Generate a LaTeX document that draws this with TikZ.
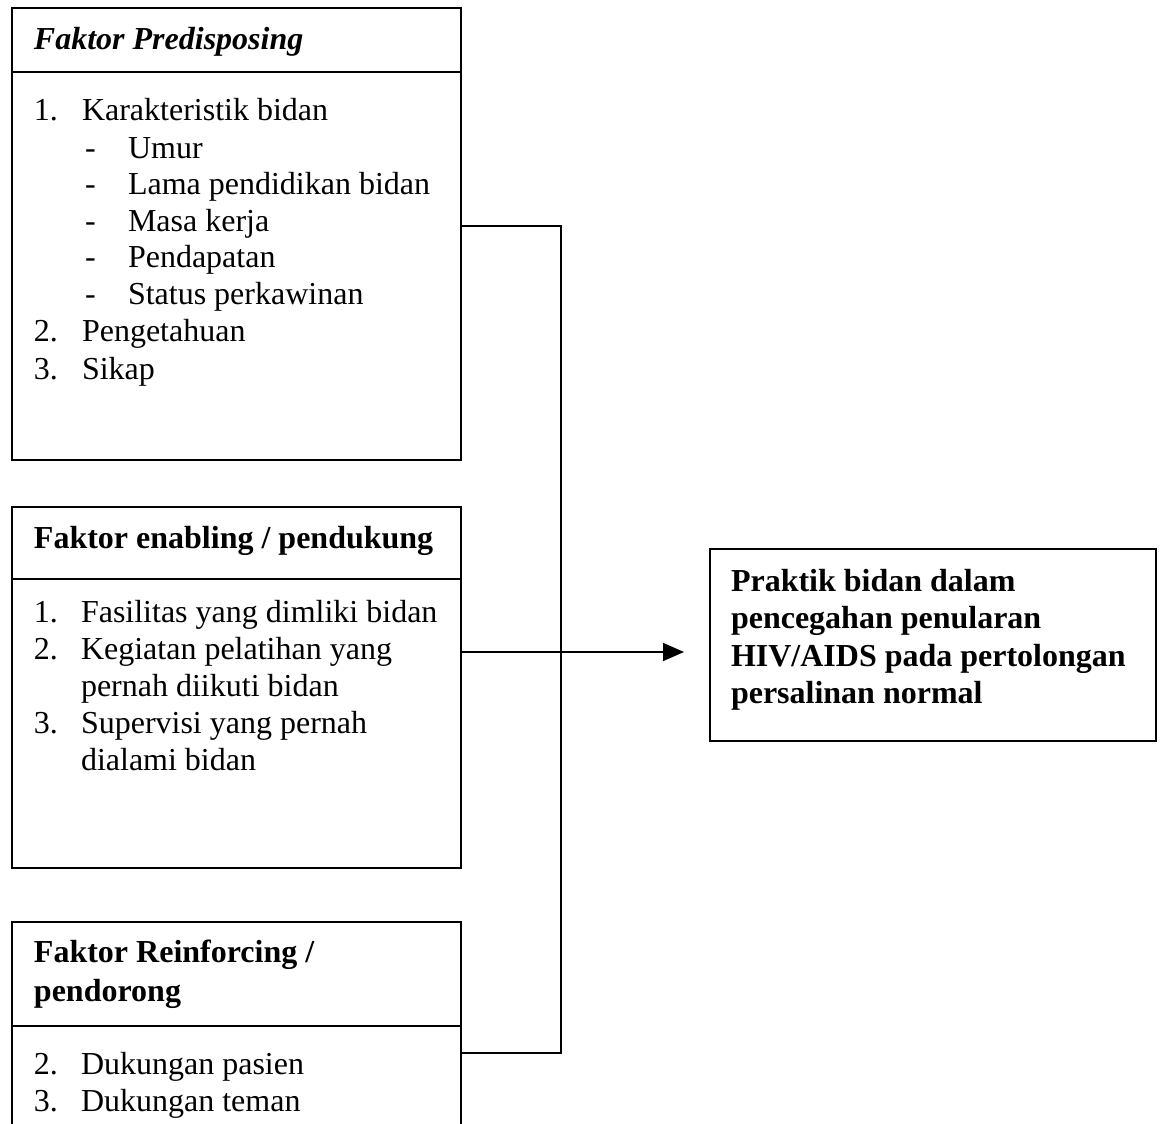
\documentclass[tikz,border=0pt]{standalone}
\usepackage{fontspec}
\setmainfont{Liberation Serif}
\usetikzlibrary{arrows.meta}
\begin{document}
\begin{tikzpicture}[x=1pt,y=-1pt,
  every node/.style={inner sep=0pt, outer sep=0pt},
  frame/.style={draw, line width=1.6pt, rectangle, anchor=north west},
  rule/.style={line width=1.6pt},
  link/.style={line width=1.6pt},
  txt/.style={anchor=base west, font=\fontsize{32}{36.7}\selectfont},
  head/.style={txt, font=\fontsize{32}{36.7}\selectfont\bfseries},
  tip/.style={-{Triangle[length=21pt,width=18pt]}}]
\useasboundingbox (0,0) rectangle (1160,1124);
\clip (0,0) rectangle (1160,1124);

% --- Predisposing factors ---
\node[frame, minimum width=449pt, minimum height=452pt] (pre) at (12,8) {};
\draw[rule] (12,72) -- (461,72);
\node[head, font=\fontsize{32}{36.7}\selectfont\bfseries\itshape] (preh) at (34,50) {Faktor Predisposing};
\node[txt] (p1n) at (34,121) {1.};
\node[txt] (p1t) at (82,121) {Karakteristik bidan};
\node[txt] (d1n) at (85,158) {-};
\node[txt] (d1t) at (128,158) {Umur};
\node[txt] (d2n) at (85,194) {-};
\node[txt] (d2t) at (128,194) {Lama pendidikan bidan};
\node[txt] (d3n) at (85,231) {-};
\node[txt] (d3t) at (128,231) {Masa kerja};
\node[txt] (d4n) at (85,267) {-};
\node[txt] (d4t) at (128,267) {Pendapatan};
\node[txt] (d5n) at (85,304) {-};
\node[txt] (d5t) at (128,304) {Status perkawinan};
\node[txt] (p2n) at (34,341) {2.};
\node[txt] (p2t) at (82,341) {Pengetahuan};
\node[txt] (p3n) at (34,379) {3.};
\node[txt] (p3t) at (82,379) {Sikap};

% --- Enabling factors ---
\node[frame, minimum width=449pt, minimum height=361pt] (ena) at (12,507) {};
\draw[rule] (12,579) -- (461,579);
\node[head] (enah) at (34,548) {Faktor enabling / pendukung};
\node[txt] (e1n) at (34,622) {1.};
\node[txt] (e1t) at (81,622) {Fasilitas yang dimliki bidan};
\node[txt] (e2n) at (34,659) {2.};
\node[txt] (e2t) at (81,659) {Kegiatan pelatihan yang};
\node[txt] (e2u) at (81,696) {pernah diikuti bidan};
\node[txt] (e3n) at (34,733) {3.};
\node[txt] (e3t) at (81,733) {Supervisi yang pernah};
\node[txt] (e3u) at (81,770) {dialami bidan};

% --- Reinforcing factors ---
\node[frame, minimum width=449pt, minimum height=230pt] (rei) at (12,922) {};
\draw[rule] (12,1026) -- (461,1026);
\node[head] (reih) at (34,962) {Faktor Reinforcing /};
\node[head] (reiu) at (34,1001) {pendorong};
\node[txt] (r2n) at (34,1074) {2.};
\node[txt] (r2t) at (81,1074) {Dukungan pasien};
\node[txt] (r3n) at (34,1111) {3.};
\node[txt] (r3t) at (81,1111) {Dukungan teman};

% --- Outcome ---
\node[frame, minimum width=446pt, minimum height=192pt] (out) at (710,549) {};
\node[head] (out1) at (731,591) {Praktik bidan dalam};
\node[head] (out2) at (731,628) {pencegahan penularan};
\node[head] (out3) at (731,666) {HIV/AIDS pada pertolongan};
\node[head] (out4) at (731,703) {persalinan normal};

% --- Connectors ---
\coordinate (jtop) at (561,226);
\coordinate (jbot) at (561,1053);
\coordinate (jmid) at (561,652);
\draw[link] (pre.east |- jtop) -- (jtop) -- (jbot) -- (rei.east |- jbot);
\draw[link, tip] (ena.east |- jmid) -- (684,652);
\end{tikzpicture}
\end{document}
